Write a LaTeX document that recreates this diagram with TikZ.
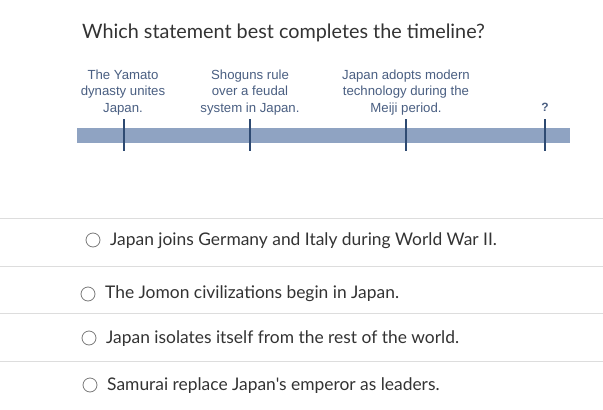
\documentclass[tikz,border=0pt]{standalone}
\usepackage{fontspec}
\setmainfont{Lato}[Ligatures=TeXOff]
\newfontfamily\arialf{Liberation Sans}
\definecolor{txt}{HTML}{333333}
\definecolor{bar}{HTML}{8FA3C2}
\definecolor{tick}{HTML}{2E4A72}
\definecolor{lbl}{HTML}{4A5F82}
\definecolor{rule}{HTML}{DDDDDD}
\definecolor{radio}{HTML}{7A7A7A}
\begin{document}
\begin{tikzpicture}[x=1pt,y=-1pt,
  title/.style={anchor=base west,inner sep=0pt,text=txt,font=\fontsize{19.8}{22}\selectfont},
  option/.style={anchor=base west,inner sep=0pt,text=txt,font=\fontsize{17.4}{20}\selectfont},
  evt/.style={anchor=base,inner sep=0pt,text=lbl,align=center,font=\arialf\fontsize{13.2}{16.5}\selectfont},
  tickmark/.style={draw=tick,line width=1.3pt},
  sep/.style={draw=rule,line width=0.9pt},
  radiobtn/.style={circle,draw=radio,line width=0.8pt,minimum size=14pt,inner sep=0pt}]
\fill[white] (0,0) rectangle (603,410);
\useasboundingbox (0,0) rectangle (603,410);
\node[title] (t) at (82,38) {Which statement best completes the timeline?};
% timeline bar
\fill[bar] (77,128) rectangle (570,143);
\foreach \n/\x in {a/124,b/250,c/406,d/545}{
  \coordinate (\n1) at (\x,119);
  \coordinate (\n2) at (\x,151);
  \draw[tickmark] (\n1) -- (\n2);
}
\node[evt] (e1) at (123,112) {The Yamato\\dynasty unites\\Japan.};
\node[evt] (e2) at (250,112) {Shoguns rule\\over a feudal\\system in Japan.};
\node[evt] (e3) at (406,112) {Japan adopts modern\\technology during the\\Meiji period.};
\node[anchor=base,inner sep=0pt,text=lbl,font=\arialf\bfseries\fontsize{12}{14}\selectfont] (q) at (545,111) {?};
% separators
\foreach \y [count=\i] in {218,266,313,361}{
  \coordinate (l\i a) at (0,\y);
  \coordinate (l\i b) at (603,\y);
  \draw[sep] (l\i a) -- (l\i b);
}
\node[radiobtn] (r1) at (93,240) {};
\node[option] (o1) at (110,245) {Japan joins Germany and Italy during World War II.};
\node[radiobtn] (r2) at (88,294) {};
\node[option] (o2) at (105,298) {The Jomon civilizations begin in Japan.};
\node[radiobtn] (r3) at (89,338) {};
\node[option] (o3) at (106,343) {Japan isolates itself from the rest of the world.};
\node[radiobtn] (r4) at (90,385) {};
\node[option] (o4) at (107,390) {Samurai replace Japan's emperor as leaders.};
\end{tikzpicture}
\end{document}
